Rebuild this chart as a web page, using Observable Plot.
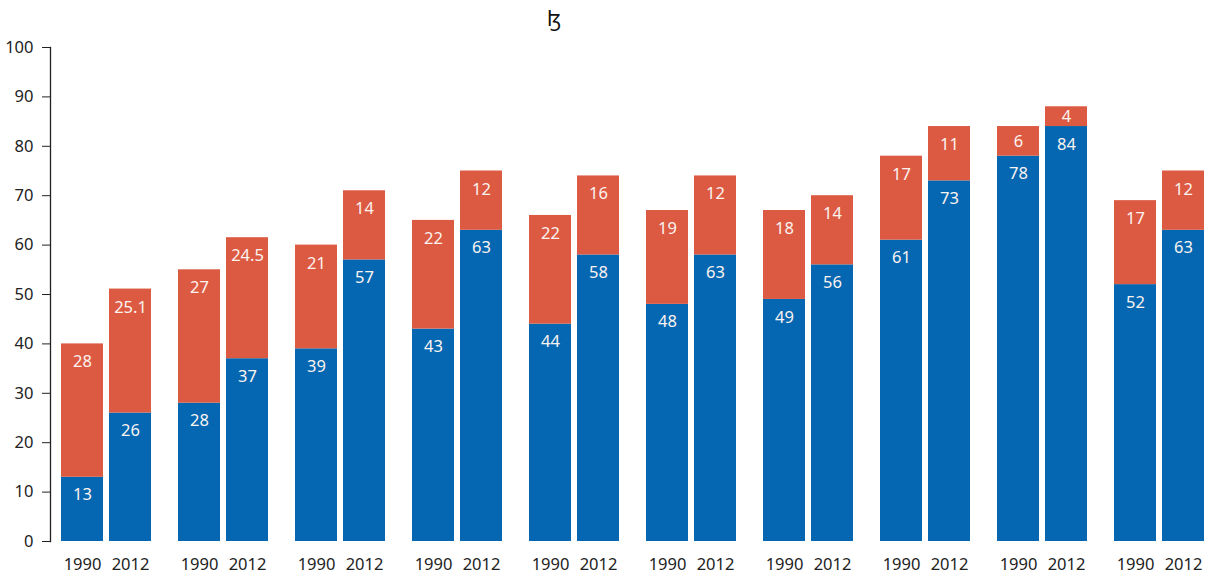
<!DOCTYPE html>
<html><head><meta charset="utf-8">
<script src="https://cdn.jsdelivr.net/npm/d3@7"></script>
<script src="https://cdn.jsdelivr.net/npm/@observablehq/plot@0.6"></script>
<style>
body{margin:0;background:#fff;font-family:"Noto Sans",sans-serif}
#title{height:36px;position:relative}
#title span{position:absolute;left:554px;top:4px;transform:translateX(-50%);font-size:21px;color:#111}
</style></head><body>
<div id="title"><span>ɮ</span></div>
<div id="chart"></div>
<script>
const groups = ["G1","G2","G3","G4","G5","G6","G7","G8","G9","G10"];
const years = ["1990","2012"];
const blue1990 = [13,28,39,43,44,48,49,61,78,52];
const blue2012 = [26,37,57,63,58,58,56,73,84,63];
const red1990 = [27,27,21,22,22,19,18,17,6,17];
const red2012 = [25.1,24.5,14,12,16,16,14,11,4,12];
const blueLabels1990 = ["13","28","39","43","44","48","49","61","78","52"];
const blueLabels2012 = ["26","37","57","63","58","63","56","73","84","63"];
const redLabels1990 = ["28","27","21","22","22","19","18","17","6","17"];
const redLabels2012 = ["25.1","24.5","14","12","16","12","14","11","4","12"];
const yTicks = [0,10,20,30,40,50,60,70,80,90,100];

const BLUE = "#0567b1", RED = "#dc5a42";
const rows = [];
groups.forEach((g, i) => {
  [[years[0], blue1990[i], red1990[i], blueLabels1990[i], redLabels1990[i]],
   [years[1], blue2012[i], red2012[i], blueLabels2012[i], redLabels2012[i]]].forEach(([yr, b, r, bl, rl]) => {
    rows.push({group: g, year: yr, series: "lower", value: b, label: bl, pos: b - Math.min(3.6, b / 2)});
    rows.push({group: g, year: yr, series: "upper", value: r, label: rl, pos: b + r - Math.min(3.7, r / 2)});
  });
});

const chart = Plot.plot({
  width: 1213,
  height: 541,
  marginTop: 11,
  marginBottom: 36,
  marginLeft: 60,
  marginRight: 8,
  style: {fontFamily: "'Noto Sans', sans-serif", fontSize: "16.5px", color: "#222", background: "#fff"},
  fx: {domain: groups, axis: null, paddingInner: 0.216, paddingOuter: 0},
  x: {domain: years, paddingInner: 0.122, paddingOuter: 0, label: null},
  y: {domain: [0, 100], label: null},
  color: {domain: ["lower", "upper"], range: [BLUE, RED]},
  marks: [
    Plot.barY(rows, {fx: "group", x: "year", y: "value", fill: "series", order: ["lower","upper"]}),
    Plot.text(rows, {fx: "group", x: "year", y: "pos", text: "label", fill: "#fbf3f0", fontSize: 16.5, lineAnchor: "middle"}),
    Plot.axisX({tickSize: 0, tickPadding: 17, fontSize: 16.5, label: null}),
    Plot.axisY({ticks: yTicks, tickSize: 8, tickPadding: 9, dx: -10, fontSize: 16.5, label: null}),
    Plot.frame({anchor: "left", dx: -10, facetAnchor: "left", stroke: "#222", strokeWidth: 1.3})
  ]
});
document.getElementById("chart").appendChild(chart);
</script>
</body></html>
